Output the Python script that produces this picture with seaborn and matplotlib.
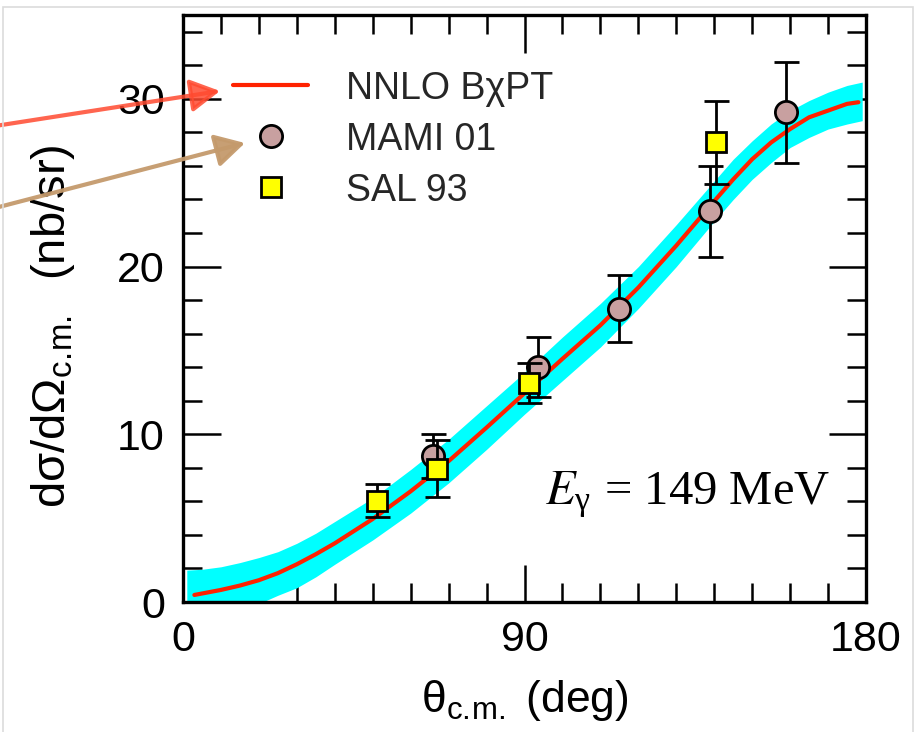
import numpy as np
import pandas as pd
import matplotlib
matplotlib.use("Agg")
import matplotlib.pyplot as plt
import seaborn as sns
from matplotlib.lines import Line2D
from matplotlib.patches import Rectangle
from matplotlib.ticker import MultipleLocator, FixedLocator

# NNLO BChPT curve
curve_theta = [3, 10, 15, 20, 25, 30, 35, 40, 50, 60, 70, 80, 90, 100, 110, 120, 130, 140,
               145, 150, 155, 160, 165, 170, 175, 178]
curve_xs = [0.42, 0.72, 0.98, 1.3, 1.72, 2.25, 2.85, 3.5, 4.95, 6.6, 8.4, 10.4, 12.45, 14.5,
            16.5, 18.75, 21.25, 23.9, 25.2, 26.4, 27.4, 28.2, 28.9, 29.3, 29.7, 29.8]

# error band (cyan)
band_theta = [1, 5, 10, 15, 20, 25, 30, 35, 40, 50, 60, 70, 80, 90, 100, 110, 120, 130, 140,
              145, 150, 155, 160, 165, 170, 175, 179]
band_hi = [1.9, 1.95, 2.1, 2.35, 2.65, 3.0, 3.5, 4.1, 4.8, 6.2, 7.9, 9.7, 11.7, 13.7, 15.8,
           17.8, 20.0, 22.5, 25.1, 26.4, 27.5, 28.5, 29.3, 29.9, 30.4, 30.8, 31.0]
band_lo = [-0.8, -0.7, -0.5, -0.3, -0.1, 0.4, 0.85, 1.5, 2.25, 3.7, 5.3, 7.1, 9.1, 11.2, 13.2,
           15.2, 17.5, 20.0, 22.7, 24.0, 25.2, 26.2, 27.1, 27.7, 28.2, 28.5, 28.7]

# MAMI 01 data
mami_theta = [66, 93.6, 115, 139, 159]
mami_xs = [8.7, 14.0, 17.5, 23.3, 29.2]
mami_err = [1.3, 1.8, 2.0, 2.7, 3.0]

# SAL 93 data
sal_theta = [51, 67, 91.2, 140.6]
sal_xs = [6.05, 7.95, 13.05, 27.4]
sal_err = [1.0, 1.7, 1.2, 2.5]

sns.set_theme(style="ticks")
plt.rcParams["font.family"] = ["Liberation Sans", "DejaVu Sans"]
plt.rcParams["mathtext.fontset"] = "custom"
plt.rcParams["mathtext.rm"] = "Liberation Sans"

fig = plt.figure(figsize=(9.24, 7.32), dpi=100)
ax = fig.add_axes([183 / 924, 1 - 602 / 732, 683 / 924, 587 / 732])

ax.fill_between(band_theta, band_lo, band_hi, color="#00FFFF", lw=0, zorder=1)
curve = pd.DataFrame({"theta": curve_theta, "xs": curve_xs})
sns.lineplot(data=curve, x="theta", y="xs", color="#FF2200", lw=3, ax=ax, zorder=2)

ax.errorbar(mami_theta, mami_xs, yerr=mami_err, fmt="o", ms=16, mfc="#C8A0A0", mec="black",
            mew=2, ecolor="black", elinewidth=2, capsize=9, capthick=2, zorder=4)
ax.errorbar(sal_theta, sal_xs, yerr=sal_err, fmt="s", ms=14, mfc="#FFFF00", mec="black",
            mew=2, ecolor="black", elinewidth=2, capsize=9, capthick=2, zorder=5)

ax.set_xlim(0, 180)
ax.set_ylim(0, 35)
ax.xaxis.set_major_locator(FixedLocator([0, 90, 180]))
ax.xaxis.set_minor_locator(MultipleLocator(10))
ax.yaxis.set_major_locator(MultipleLocator(10))
ax.yaxis.set_minor_locator(MultipleLocator(2))
ax.tick_params(which="both", direction="in", top=True, right=True, width=1.8, color="black",
               labelsize=31, labelcolor="black")
ax.tick_params(which="major", length=27, pad=13)
ax.tick_params(which="minor", length=14)
for s in ax.spines.values():
    s.set_linewidth(2.4)
    s.set_color("black")

ax.set_xlabel(r"θ$_{\mathregular{c.\!m.}}$ (deg)", fontsize=32, color="black")
ax.set_ylabel(r"dσ/dΩ$_{\mathregular{c.\!m.}}$  (nb/sr)", fontsize=34, color="black")
ax.xaxis.set_label_coords(0.5, -0.13)
ax.yaxis.set_label_coords(-0.155, 0.47)

ax.text(170.5, 5.8, r"$E_{\mathregular{γ}}$ = 149 MeV", family="Liberation Serif",
        math_fontfamily="stix", fontsize=35, ha="right", va="baseline", color="black")

handles = [
    Line2D([], [], color="#FF2200", lw=3),
    Line2D([], [], ls="none", marker="o", ms=16, mfc="#C8A0A0", mec="black", mew=2),
    Line2D([], [], ls="none", marker="s", ms=14, mfc="#FFFF00", mec="black", mew=2),
]
ax.legend(handles, ["NNLO BχPT", "MAMI 01", "SAL 93"], loc="upper left",
          bbox_to_anchor=(0.035, 0.95), frameon=False, fontsize=27, handlelength=2.0,
          handletextpad=1.0, labelspacing=0.4, borderpad=0.2)

# annotation arrows coming in from the left edge
arrow_style = "-|>,head_length=0.9,head_width=0.5"
ax.annotate("", xy=(220, 732 - 91), xytext=(-5, 732 - 126), xycoords="figure pixels",
            textcoords="figure pixels", annotation_clip=False,
            arrowprops=dict(arrowstyle=arrow_style, color="#FF4A30", alpha=0.85, lw=3,
                            mutation_scale=20, shrinkA=0, shrinkB=0))
ax.annotate("", xy=(245, 732 - 143), xytext=(-5, 732 - 208), xycoords="figure pixels",
            textcoords="figure pixels", annotation_clip=False,
            arrowprops=dict(arrowstyle=arrow_style, color="#C49A6C", alpha=0.95, lw=3,
                            mutation_scale=20, shrinkA=0, shrinkB=0))

# faint screenshot frame
fig.add_artist(Rectangle((3 / 924, -0.02), 910 / 924, 1.02 - 7 / 732, transform=fig.transFigure,
                         fill=False, ec="#dcdcdc", lw=1.2))

fig.savefig("out.png", dpi=100)
